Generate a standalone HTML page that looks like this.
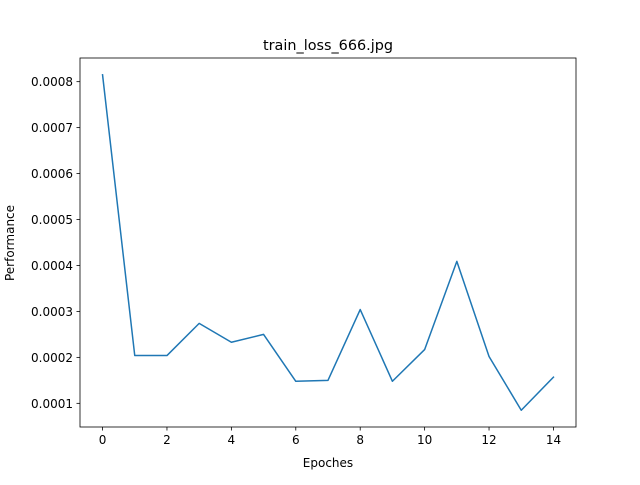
<!DOCTYPE html>
<html><head><meta charset="utf-8"><style>
body{margin:0;background:#fff;}
svg{font-family:"DejaVu Sans","Liberation Sans",sans-serif;}
</style></head><body>
<svg id="chart" width="640" height="480" xmlns="http://www.w3.org/2000/svg">
<rect width="640" height="480" fill="#fff"/>
<text x="328" y="50" font-size="14.4" text-anchor="middle">train_loss_666.jpg</text>
<g id="axes"></g>
<rect x="80" y="58" width="496" height="369" fill="none" stroke="#000" stroke-width="0.8"/>
<text x="328" y="467" font-size="12" text-anchor="middle">Epoches</text>
<text transform="translate(14,243) rotate(-90)" font-size="12" text-anchor="middle">Performance</text>
</svg>
<script>
const epochs=[0,1,2,3,4,5,6,7,8,9,10,11,12,13,14];
const lossValues=[0.000815,0.000204,0.000204,0.000274,0.000233,0.00025,0.000148,0.00015,0.000304,0.000148,0.000217,0.000409,0.000202,0.000085,0.000157];
const xTicks=[0,2,4,6,8,10,12,14];
const yTicks=[0.0001,0.0002,0.0003,0.0004,0.0005,0.0006,0.0007,0.0008];
const L=80,R=576,T=58,B=427;
const xmin=Math.min(...epochs),xmax=Math.max(...epochs),xm=(xmax-xmin)*0.05;
const ymin0=Math.min(...lossValues),ymax0=Math.max(...lossValues),ym=(ymax0-ymin0)*0.05;
const sx=v=>L+(v-(xmin-xm))/((xmax+xm)-(xmin-xm))*(R-L);
const sy=v=>B-(v-(ymin0-ym))/((ymax0+ym)-(ymin0-ym))*(B-T);
const g=document.getElementById('axes');
const NS='http://www.w3.org/2000/svg';
function mk(t,a){const e=document.createElementNS(NS,t);for(const k in a)e.setAttribute(k,a[k]);g.appendChild(e);return e;}
xTicks.forEach(v=>{
 const x=sx(v);
 const l=mk('line',{x1:x,x2:x,y1:B,y2:B+3.5,stroke:'#000','stroke-width':0.8});
 
 
 const t=mk('text',{x:x,y:B+17,'font-size':12,'text-anchor':'middle'});
 t.textContent=v;
 
 
});
yTicks.forEach(v=>{
 const y=sy(v);
 if(y<T||y>B)return;
 const l=mk('line',{x1:L-3.5,x2:L,y1:y,y2:y,stroke:'#000','stroke-width':0.8});
 
 
 const t=mk('text',{x:L-7,y:y+4.5,'font-size':12,'text-anchor':'end'});
 t.textContent=v.toFixed(4);
 
 
});
const p=mk('polyline',{points:epochs.map((e,i)=>sx(e)+','+sy(lossValues[i])).join(' '),fill:'none',stroke:'#1f77b4','stroke-width':1.5,'stroke-linejoin':'round','stroke-linecap':'square'});


</script>
</body></html>
